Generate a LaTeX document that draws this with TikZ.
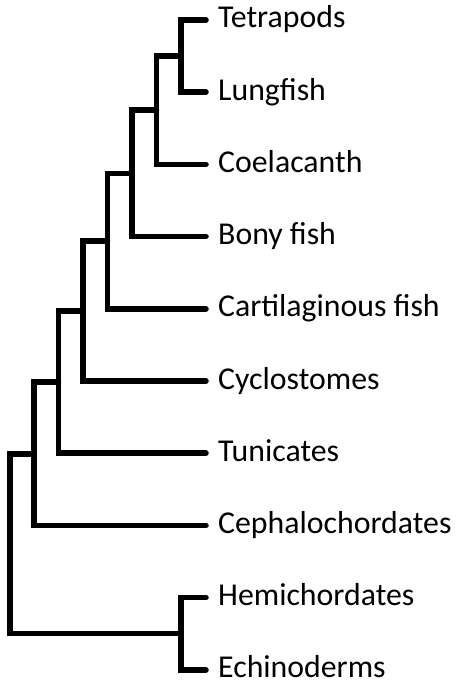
\documentclass[tikz,border=0pt]{standalone}
\usepackage{fontspec}
\setmainfont{Carlito}
\begin{document}
\begin{tikzpicture}[x=1pt,y=-1pt,
  branch/.style={line width=5.5pt,line cap=round,line join=miter},
  leaf/.style={anchor=base west,inner sep=0pt,font=\fontsize{31.8}{36}\selectfont}]
\useasboundingbox (0,0) rectangle (460,695);
% leaf tips
\coordinate (tTetra) at (206,20);
\coordinate (tLung) at (206,92.2);
\coordinate (tCoel) at (206,164.4);
\coordinate (tBony) at (206,236.6);
\coordinate (tCart) at (206,308.8);
\coordinate (tCyclo) at (206,381);
\coordinate (tTuni) at (206,453.2);
\coordinate (tCeph) at (206,525.4);
\coordinate (tHemi) at (206,597.6);
\coordinate (tEchi) at (206,669.8);
% labels
\node[leaf] (lTetra) at (218,28) {Tetrapods};
\node[leaf] (lLung) at (218,100.2) {Lungfish};
\node[leaf] (lCoel) at (218,172.4) {Coelacanth};
\node[leaf] (lBony) at (218,244.6) {Bony fish};
\node[leaf] (lCart) at (218,316.8) {Cartilaginous fish};
\node[leaf] (lCyclo) at (218,389) {Cyclostomes};
\node[leaf] (lTuni) at (218,461.2) {Tunicates};
\node[leaf] (lCeph) at (218,533.4) {Cephalochordates};
\node[leaf] (lHemi) at (218,605.6) {Hemichordates};
\node[leaf] (lEchi) at (218,677.8) {Echinoderms};
% internal nodes
\coordinate (n1) at (181,56.1);
\coordinate (n2) at (156.5,110.25);
\coordinate (n3) at (132,173.4);
\coordinate (n4) at (107.5,241.1);
\coordinate (n5) at (83,311.05);
\coordinate (n6) at (58.5,382.1);
\coordinate (n7) at (34,453.75);
\coordinate (n8) at (181,633.7);
\coordinate (root) at (10,543.7);
% branches
\draw[branch] (tTetra) -| (n1) |- (tLung);
\draw[branch] (n1) -| (n2) |- (tCoel);
\draw[branch] (n2) -| (n3) |- (tBony);
\draw[branch] (n3) -| (n4) |- (tCart);
\draw[branch] (n4) -| (n5) |- (tCyclo);
\draw[branch] (n5) -| (n6) |- (tTuni);
\draw[branch] (n6) -| (n7) |- (tCeph);
\draw[branch] (n7) -| (root) |- (n8);
\draw[branch] (tHemi) -| (n8) |- (tEchi);
\end{tikzpicture}
\end{document}
